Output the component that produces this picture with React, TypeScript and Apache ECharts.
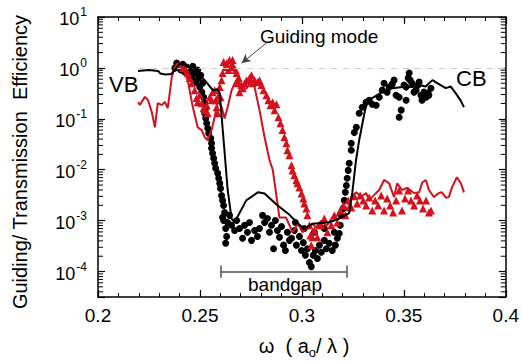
import React, { useEffect, useRef } from 'react';
import * as echarts from 'echarts';

// ---- data: [omega (a0/lambda), efficiency] ----
const blackLineSim: [number, number][] = [
  [0.2196, 0.87], [0.225, 0.91], [0.2295, 0.87], [0.2305, 0.78], [0.233, 0.74], [0.236, 0.76],
  [0.2385, 1.0], [0.24, 1.2], [0.2425, 1.12], [0.245, 1.0], [0.247, 0.89], [0.25, 0.71],
  [0.2525, 0.56], [0.2545, 0.45], [0.2565, 0.36], [0.2585, 0.38], [0.2597, 0.32], [0.2636, 0.004],
  [0.2655, 0.0011], [0.267, 0.00093], [0.2727, 0.0025], [0.2784, 0.0036], [0.2817, 0.0034],
  [0.2874, 0.0021], [0.2939, 0.0013], [0.2985, 0.00085], [0.3012, 0.00069], [0.3053, 0.00087],
  [0.3134, 0.00093], [0.3183, 0.0011], [0.3232, 0.0014], [0.3247, 0.0035], [0.3265, 0.015],
  [0.3281, 0.038], [0.3306, 0.126], [0.3322, 0.23], [0.3355, 0.27], [0.3395, 0.34], [0.3444, 0.4],
  [0.3493, 0.42], [0.3542, 0.42], [0.3575, 0.46], [0.3607, 0.43], [0.364, 0.575], [0.368, 0.46],
  [0.3705, 0.4], [0.373, 0.43], [0.3754, 0.32], [0.3778, 0.23], [0.3795, 0.17],
];

const redLineSim: [number, number][] = [
  [0.2197, 0.214], [0.2205, 0.186], [0.223, 0.27], [0.2245, 0.234], [0.2264, 0.135], [0.2279, 0.068],
  [0.2293, 0.204], [0.2313, 0.186], [0.2328, 0.214], [0.2342, 0.162], [0.2362, 0.66], [0.2377, 1.05],
  [0.2391, 1.23], [0.2416, 1.0], [0.244, 0.575], [0.2465, 0.17], [0.2489, 0.068], [0.2509, 0.06],
  [0.2523, 0.0435], [0.2538, 0.038], [0.2557, 0.06], [0.2572, 0.107], [0.2587, 0.234], [0.2606, 0.17],
  [0.2621, 0.102], [0.2636, 0.17], [0.2655, 0.363], [0.267, 0.5], [0.2685, 0.63], [0.2709, 0.363],
  [0.2729, 0.4], [0.2753, 0.575], [0.2768, 0.42], [0.2778, 0.27], [0.2792, 0.148], [0.2817, 0.0435],
  [0.2841, 0.0155], [0.2857, 0.01], [0.2874, 0.0033], [0.289, 0.00115], [0.2922, 0.00115],
  [0.2955, 0.00059], [0.298, 0.00087], [0.3003, 0.00059], [0.3027, 0.00074], [0.305, 0.00087],
  [0.307, 0.00074], [0.3095, 0.001], [0.312, 0.00079], [0.315, 0.00115], [0.3174, 0.00126],
  [0.3198, 0.00182], [0.3223, 0.00158], [0.3242, 0.0029], [0.3267, 0.0036], [0.329, 0.0029],
  [0.3315, 0.0035], [0.333, 0.0025], [0.3364, 0.0035], [0.3379, 0.004], [0.3403, 0.0063],
  [0.3428, 0.0054], [0.3452, 0.0029], [0.3467, 0.0054], [0.3492, 0.004], [0.3516, 0.0044],
  [0.355, 0.0035], [0.3575, 0.0036], [0.359, 0.0056], [0.3608, 0.0063], [0.3623, 0.004],
  [0.3648, 0.0029], [0.3672, 0.0035], [0.3687, 0.0036], [0.3707, 0.0028], [0.3721, 0.0029],
  [0.3736, 0.0045], [0.376, 0.0071], [0.378, 0.0054], [0.3795, 0.0036],
];

const blackDotsMeas: [number, number][] = [
  [0.2377, 0.99], [0.2386, 1.24], [0.2396, 1.08], [0.2406, 0.91], [0.2416, 1.18], [0.2425, 0.83],
  [0.2435, 1.04], [0.2445, 0.72], [0.245, 0.91], [0.246, 0.63], [0.2465, 1.08], [0.2474, 0.79],
  [0.2479, 0.525], [0.2489, 0.91], [0.2494, 0.63], [0.2499, 0.42], [0.2504, 0.72], [0.2509, 0.334],
  [0.2513, 0.5], [0.2518, 0.266], [0.2523, 0.203], [0.2528, 0.162], [0.2523, 0.129], [0.2528, 0.103],
  [0.2533, 0.082], [0.2538, 0.065], [0.2543, 0.052], [0.2553, 0.0415], [0.2557, 0.033], [0.2557, 0.0264],
  [0.2562, 0.021], [0.2567, 0.0168], [0.2572, 0.0134], [0.2577, 0.0107], [0.2587, 0.0085], [0.2592, 0.0068],
  [0.2597, 0.0054], [0.2601, 0.0043], [0.2606, 0.0031], [0.2611, 0.0025], [0.2616, 0.00199], [0.2621, 0.00145],
  [0.2616, 0.00101], [0.2626, 0.0007], [0.2631, 0.00049], [0.2626, 0.00036], [0.2611, 0.00116], [0.2636, 0.00092],
  [0.2645, 0.00127], [0.2655, 0.00081], [0.267, 0.00064], [0.268, 0.00101], [0.2694, 0.0007], [0.2709, 0.00045],
  [0.2719, 0.00081], [0.2733, 0.00059], [0.2743, 0.00092], [0.2753, 0.00041], [0.2768, 0.00064], [0.2782, 0.00049],
  [0.2792, 0.0007], [0.2807, 0.00127], [0.2817, 0.00092], [0.2831, 0.0011], [0.2841, 0.00059], [0.2851, 0.00081],
  [0.2861, 0.00028], [0.287, 0.00101], [0.288, 0.00064], [0.289, 0.00047], [0.29, 0.00077], [0.291, 0.00033],
  [0.2919, 0.00026], [0.2929, 0.00059], [0.2939, 0.00041], [0.2949, 0.00045], [0.2963, 0.00064], [0.2968, 0.00092],
  [0.2973, 0.00033], [0.2988, 0.00049], [0.2998, 0.00026], [0.3007, 0.00037], [0.3012, 0.0007], [0.3017, 0.00021],
  [0.3027, 0.00028], [0.3037, 0.00015], [0.3046, 0.000125], [0.3056, 0.00021], [0.3061, 0.00059], [0.3066, 0.00026],
  [0.3076, 0.00018], [0.3086, 0.00033], [0.3095, 0.00024], [0.311, 0.00041], [0.311, 0.0007], [0.312, 0.00028],
  [0.3134, 0.00036], [0.3149, 0.00026], [0.3159, 0.00059], [0.3164, 0.00033], [0.3174, 0.00045], [0.3183, 0.00056],
  [0.3188, 0.00081], [0.3193, 0.00127], [0.3203, 0.00174], [0.3208, 0.0025], [0.3213, 0.0036], [0.3218, 0.0049],
  [0.3222, 0.0068], [0.3227, 0.0097], [0.3232, 0.0134], [0.3242, 0.0241], [0.3242, 0.033], [0.3257, 0.054],
  [0.3267, 0.068], [0.3281, 0.129], [0.3296, 0.169], [0.3315, 0.212], [0.333, 0.232], [0.3345, 0.194],
  [0.3364, 0.185], [0.3379, 0.266], [0.3394, 0.366], [0.3403, 0.5], [0.3418, 0.334], [0.3428, 0.42],
  [0.3443, 0.48], [0.3452, 0.575], [0.3462, 0.29], [0.3477, 0.266], [0.3477, 0.107], [0.3487, 0.148],
  [0.3501, 0.46], [0.3511, 0.42], [0.3521, 0.63], [0.3526, 0.79], [0.3531, 0.575], [0.3511, 0.232],
  [0.354, 0.5], [0.355, 0.334], [0.356, 0.366], [0.357, 0.46], [0.3575, 0.525], [0.3584, 0.29],
  [0.3589, 0.232], [0.3599, 0.334], [0.3609, 0.266], [0.3619, 0.32], [0.3623, 0.29], [0.3633, 0.4],
];

const redTrianglesMeas: [number, number][] = [
  [0.2401, 1.13], [0.2416, 0.99], [0.2425, 1.04], [0.244, 0.79], [0.245, 0.63], [0.246, 0.5],
  [0.2474, 0.366], [0.2484, 0.255], [0.2489, 0.212], [0.2499, 0.29], [0.2509, 0.203], [0.2518, 0.162],
  [0.2523, 0.148], [0.2533, 0.185], [0.2538, 0.129], [0.2548, 0.266], [0.2557, 0.232], [0.2562, 0.334],
  [0.2572, 0.366], [0.2577, 0.232], [0.2582, 0.169], [0.2587, 0.129], [0.2592, 0.29], [0.2597, 0.42],
  [0.2601, 0.266], [0.2606, 0.575], [0.2611, 0.79], [0.2616, 1.3], [0.2626, 1.04], [0.2631, 1.24],
  [0.264, 0.91], [0.2645, 1.43], [0.2655, 1.13], [0.266, 1.43], [0.2665, 1.04], [0.2675, 0.91],
  [0.268, 0.79], [0.2685, 0.5], [0.269, 0.63], [0.2694, 0.334], [0.2704, 0.46], [0.2709, 0.4],
  [0.2719, 0.5], [0.2729, 0.575], [0.2743, 0.63], [0.2753, 0.72], [0.2758, 0.5], [0.2768, 0.575],
  [0.2782, 0.525], [0.2792, 0.575], [0.2802, 0.46], [0.2812, 0.366], [0.2826, 0.29], [0.2836, 0.232],
  [0.2846, 0.185], [0.2856, 0.212], [0.2866, 0.148], [0.2875, 0.194], [0.2885, 0.107], [0.2895, 0.082],
  [0.2905, 0.06], [0.2914, 0.0435], [0.2924, 0.033], [0.2929, 0.0241], [0.2939, 0.0192], [0.2949, 0.0122],
  [0.2954, 0.0097], [0.2963, 0.0078], [0.2973, 0.0062], [0.2978, 0.0054], [0.2988, 0.0045], [0.2998, 0.0034],
  [0.3007, 0.00273], [0.3012, 0.00218], [0.3022, 0.00174], [0.3027, 0.00127], [0.3037, 0.00081], [0.3042, 0.00051],
  [0.3046, 0.00033], [0.3051, 0.00047], [0.3061, 0.00064], [0.3076, 0.00047], [0.3086, 0.00081], [0.3095, 0.00081],
  [0.311, 0.0011], [0.3125, 0.00059], [0.3144, 0.00081], [0.3159, 0.00127], [0.3174, 0.00092], [0.3188, 0.00159],
  [0.3203, 0.00199], [0.3213, 0.00127], [0.3227, 0.0025], [0.3242, 0.00182], [0.3257, 0.003], [0.3271, 0.00218],
  [0.3286, 0.0031], [0.3301, 0.0025], [0.3315, 0.00199], [0.333, 0.00286], [0.3345, 0.00159], [0.3359, 0.0025],
  [0.3374, 0.00199], [0.3389, 0.0031], [0.3403, 0.00159], [0.3418, 0.00273], [0.3433, 0.00199], [0.3447, 0.00145],
  [0.3462, 0.0025], [0.3477, 0.0039], [0.3491, 0.00159], [0.3506, 0.00273], [0.3521, 0.0039], [0.3535, 0.0025],
  [0.355, 0.00199], [0.3565, 0.0031], [0.3579, 0.0025], [0.3594, 0.00174], [0.3609, 0.0025], [0.3623, 0.00145],
  [0.3633, 0.00159],
];

// axis settings
const xMin = 0.2;
const xMax = 0.4;
const xInterval = 0.05;
const yMin = 3.1623e-5;
const yMax = 10;
const decades = [1e-5, 1e-4, 1e-3, 1e-2, 1e-1, 1];
const minorMultipliers = [2, 3, 4, 5, 6, 7, 8, 9];

// annotations
const bandgapRange = [0.26, 0.322];
const bandgapLevel = 1e-4;
const unityLevel = 1;
const unityLineStart = 0.22;
const guidingArrowFrom: [number, number] = [0.2831, 3.2];
const guidingArrowTo: [number, number] = [0.2704, 1.24];

const RED = '#d3121d';
const BLACK = '#000000';
const FONT = '"Liberation Sans", Arial, Helvetica, sans-serif';

export default function App() {
  const ref = useRef<HTMLDivElement>(null);
  useEffect(() => {
    if (!ref.current) return;
    const chart = echarts.init(ref.current, undefined, { renderer: 'svg' });

    const minorTicks: number[][] = [];
    decades.forEach((d) =>
      minorMultipliers.forEach((m) => {
        const v = d * m;
        if (v > yMin && v < yMax) minorTicks.push([0.3, v]);
      })
    );

    const yLabelFmt = (v: number) => {
      const l = Math.log10(v);
      const e = Math.round(l);
      if (Math.abs(l - e) > 0.01) return '';
      return `{b|10}{s|${e}}`;
    };
    const yRich = {
      b: { fontSize: 18, fontFamily: FONT, color: '#000', lineHeight: 22, verticalAlign: 'bottom' },
      s: { fontSize: 12, fontFamily: FONT, color: '#000', lineHeight: 22, verticalAlign: 'top', padding: [0, 0, 0, 1] },
    };

    const capUp = bandgapLevel * 1.32;
    const capDn = bandgapLevel / 1.32;

    chart.setOption({
      animation: false,
      grid: { left: 98, right: 15, top: 17, bottom: 65, containLabel: false },
      xAxis: [
        {
          type: 'value', min: xMin, max: xMax, interval: xInterval, position: 'bottom',
          axisLine: { show: true, onZero: false, lineStyle: { color: '#000', width: 1.5 } },
          axisTick: { show: true, inside: true, length: 7, lineStyle: { color: '#000', width: 1.2 } },
          minorTick: { show: true, splitNumber: 5, length: 4, lineStyle: { color: '#000', width: 1 } },
          axisLabel: { show: true, margin: 9, fontSize: 19, fontFamily: FONT, color: '#000' },
          splitLine: { show: false },
        },
        {
          type: 'value', min: xMin, max: xMax, interval: xInterval, position: 'top',
          axisLine: { show: true, onZero: false, lineStyle: { color: '#000', width: 1.5 } },
          axisTick: { show: true, inside: true, length: 7, lineStyle: { color: '#000', width: 1.2 } },
          minorTick: { show: true, splitNumber: 5, length: 4, lineStyle: { color: '#000', width: 1 } },
          axisLabel: { show: false },
          splitLine: { show: false },
        },
      ],
      yAxis: [
        {
          type: 'log', logBase: 10, min: yMin, max: yMax, position: 'left',
          axisLine: { show: true, onZero: false, lineStyle: { color: '#000', width: 1.5 } },
          axisTick: { show: true, inside: true, length: 7, lineStyle: { color: '#000', width: 1.2 } },
          axisLabel: { show: true, margin: 11, formatter: yLabelFmt, rich: yRich },
          splitLine: { show: false },
        },
        {
          type: 'log', logBase: 10, min: yMin, max: yMax, position: 'right',
          axisLine: { show: true, onZero: false, lineStyle: { color: '#000', width: 1.5 } },
          axisTick: { show: true, inside: true, length: 7, lineStyle: { color: '#000', width: 1.2 } },
          axisLabel: { show: false },
          splitLine: { show: false },
        },
      ],
      series: [
        {
          name: 'minor ticks', type: 'custom', xAxisIndex: 0, yAxisIndex: 0, silent: true, clip: false, z: 10,
          data: minorTicks,
          renderItem: (params: any, api: any) => {
            const v = api.value(1);
            const pL = api.coord([xMin, v]);
            const pR = api.coord([xMax, v]);
            return {
              type: 'group',
              children: [
                { type: 'line', shape: { x1: pL[0], y1: pL[1], x2: pL[0] + 5, y2: pL[1] }, style: { stroke: '#000', lineWidth: 1 } },
                { type: 'line', shape: { x1: pR[0], y1: pR[1], x2: pR[0] - 5, y2: pR[1] }, style: { stroke: '#000', lineWidth: 1 } },
              ],
            };
          },
        },
        {
          name: 'annotations', type: 'line', data: [], silent: true,
          markLine: {
            silent: true, symbol: ['none', 'none'], label: { show: false }, animation: false,
            data: [
              [{ coord: [unityLineStart, unityLevel], lineStyle: { type: [6, 6], color: '#cfcfcf', width: 1 } }, { coord: [xMax, unityLevel] }],
              [{ coord: [bandgapRange[0], bandgapLevel], lineStyle: { type: 'solid', color: '#555', width: 1.5 } }, { coord: [bandgapRange[1], bandgapLevel] }],
              [{ coord: [bandgapRange[0], capUp], lineStyle: { type: 'solid', color: '#555', width: 1.5 } }, { coord: [bandgapRange[0], capDn] }],
              [{ coord: [bandgapRange[1], capUp], lineStyle: { type: 'solid', color: '#555', width: 1.5 } }, { coord: [bandgapRange[1], capDn] }],
            ],
          },
        },
        {
          name: 'arrow', type: 'line', data: [], silent: true,
          markLine: {
            silent: true, symbol: ['none', 'arrow'], symbolSize: [7, 9], label: { show: false },
            lineStyle: { type: 'solid', color: '#444', width: 1 },
            data: [[{ coord: guidingArrowFrom }, { coord: guidingArrowTo }]],
          },
        },
        {
          name: 'Transmission (measured)', type: 'scatter', data: blackDotsMeas,
          symbol: 'circle', symbolSize: 7, itemStyle: { color: BLACK, opacity: 1 }, z: 3,
        },
        {
          name: 'Guiding (measured)', type: 'scatter', data: redTrianglesMeas,
          symbol: 'triangle', symbolSize: 8, itemStyle: { color: RED, opacity: 1 }, z: 4,
        },
        {
          name: 'Guiding (simulation)', type: 'line', data: redLineSim, showSymbol: false,
          lineStyle: { color: RED, width: 2 }, z: 5,
        },
        {
          name: 'Transmission (simulation)', type: 'line', data: blackLineSim, showSymbol: false,
          lineStyle: { color: BLACK, width: 2 }, z: 6,
        },
      ],
      graphic: [
        {
          type: 'text', x: 20, y: 162, rotation: Math.PI / 2,
          style: { text: 'Guiding/ Transmission  Efficiency', font: `20px ${FONT}`, fill: '#000', textAlign: 'center', textVerticalAlign: 'middle' },
        },
        {
          type: 'text', x: 304, y: 346,
          style: {
            text: '{n|ω  ( a}{sub|o}{n|/ λ )}', textAlign: 'center', textVerticalAlign: 'middle',
            rich: {
              n: { fontSize: 20, fontFamily: FONT, fill: '#000', lineHeight: 26, verticalAlign: 'middle' },
              sub: { fontSize: 13, fontFamily: FONT, fill: '#000', lineHeight: 26, verticalAlign: 'bottom' },
            },
          },
        },
        { type: 'text', x: 109, y: 84, style: { text: 'VB', font: `22px ${FONT}`, fill: '#000', textVerticalAlign: 'middle' } },
        { type: 'text', x: 456, y: 78, style: { text: 'CB', font: `22px ${FONT}`, fill: '#000', textVerticalAlign: 'middle' } },
        { type: 'text', x: 260, y: 36, style: { text: 'Guiding mode', font: `19px ${FONT}`, fill: '#000', textVerticalAlign: 'middle' } },
        { type: 'text', x: 285, y: 284, style: { text: 'bandgap', font: `19px ${FONT}`, fill: '#000', textAlign: 'center', textVerticalAlign: 'middle' } },
      ],
    });
    return () => chart.dispose();
  }, []);
  return <div ref={ref} style={{ position: 'fixed', left: 0, top: 0, width: 522, height: 362, background: '#fff' }} />;
}
